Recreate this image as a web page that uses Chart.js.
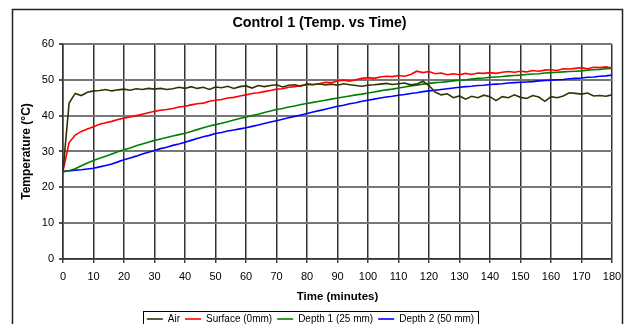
<!DOCTYPE html>
<html>
<head>
<meta charset="utf-8">
<title>Control 1</title>
<script src="https://cdn.jsdelivr.net/npm/chart.js@4/dist/chart.umd.min.js"></script>
<style>
  html, body { margin: 0; padding: 0; background: #fff; overflow: hidden; }
  #wrap { width: 624px; height: 334px; }
</style>
</head>
<body>
<div id="wrap"><canvas id="tempChart" width="624" height="334"></canvas></div>
<script>
// readings every 2 minutes
const minutes = [0, 2, 4, 6, 8, 10, 12, 14, 16, 18, 20, 22, 24, 26, 28, 30, 32, 34, 36, 38,
  40, 42, 44, 46, 48, 50, 52, 54, 56, 58, 60, 62, 64, 66, 68, 70, 72, 74, 76, 78,
  80, 82, 84, 86, 88, 90, 92, 94, 96, 98, 100, 102, 104, 106, 108, 110, 112, 114, 116, 118,
  120, 122, 124, 126, 128, 130, 132, 134, 136, 138, 140, 142, 144, 146, 148, 150, 152, 154, 156, 158,
  160, 162, 164, 166, 168, 170, 172, 174, 176, 178, 180];

const air = [24.5, 43.5, 46.2, 45.6, 46.5, 46.9, 47.0, 47.3, 46.9, 47.2, 47.4, 47.1, 47.5, 47.3, 47.6, 47.4, 47.6, 47.3, 47.5, 47.9,
  47.6, 48.1, 47.6, 47.9, 47.3, 48.0, 47.8, 48.2, 47.6, 48.1, 48.3, 47.7, 48.4, 48.1, 48.4, 48.6, 48.0, 48.5, 48.6, 48.2,
  48.9, 48.7, 48.9, 48.6, 48.8, 48.5, 48.9, 48.6, 48.4, 48.2, 48.5, 48.6, 48.8, 49.0, 48.7, 48.9, 49.1, 48.6, 48.8, 49.6,
  48.4, 46.6, 45.8, 46.1, 45.0, 45.5, 44.6, 45.4, 45.0, 45.7, 45.3, 44.2, 45.3, 45.0, 45.8, 45.1, 44.8, 45.6, 45.2, 44.0,
  45.3, 45.0, 45.5, 46.4, 46.2, 46.0, 46.3, 45.5, 45.6, 45.4, 45.8];

const surface = [24.5, 32.5, 34.6, 35.6, 36.3, 36.9, 37.6, 38.0, 38.4, 38.9, 39.3, 39.6, 40.0, 40.4, 40.8, 41.2, 41.5, 41.7, 42.0, 42.4,
  42.6, 43.0, 43.3, 43.5, 44.0, 44.3, 44.5, 44.9, 45.1, 45.5, 45.8, 46.2, 46.4, 46.7, 47.0, 47.4, 47.5, 47.9, 48.1, 48.4,
  48.6, 48.6, 48.9, 49.3, 49.2, 49.7, 49.9, 49.6, 50.0, 50.4, 50.6, 50.4, 50.8, 51.0, 50.9, 51.2, 51.0, 51.5, 52.4, 52.0,
  52.3, 51.7, 51.9, 51.4, 51.7, 51.4, 51.8, 51.5, 51.9, 51.8, 52.0, 51.8, 52.1, 52.3, 52.1, 52.4, 52.2, 52.6, 52.4, 52.7,
  52.8, 52.6, 53.1, 53.0, 53.2, 53.4, 53.1, 53.5, 53.4, 53.6, 53.3];

const depth1 = [24.3, 24.6, 25.2, 26.0, 26.8, 27.5, 28.1, 28.7, 29.3, 29.9, 30.5, 31.0, 31.6, 32.1, 32.6, 33.1, 33.5, 33.9, 34.3, 34.7,
  35.1, 35.6, 36.1, 36.6, 37.1, 37.5, 37.9, 38.3, 38.8, 39.2, 39.6, 40.0, 40.4, 40.9, 41.3, 41.7, 42.0, 42.4, 42.7, 43.1,
  43.4, 43.7, 44.0, 44.3, 44.6, 44.9, 45.2, 45.5, 45.8, 46.0, 46.3, 46.6, 46.9, 47.2, 47.4, 47.7, 48.0, 48.3, 48.5, 48.8,
  49.0, 49.2, 49.3, 49.5, 49.7, 49.9, 50.0, 50.2, 50.4, 50.5, 50.7, 50.8, 50.9, 51.1, 51.2, 51.3, 51.5, 51.6, 51.7, 51.9,
  52.0, 52.1, 52.2, 52.3, 52.4, 52.5, 52.7, 52.8, 52.9, 53.1, 53.2];

const depth2 = [24.5, 24.6, 24.8, 24.9, 25.1, 25.3, 25.7, 26.1, 26.5, 27.1, 27.7, 28.2, 28.7, 29.3, 29.8, 30.3, 30.8, 31.2, 31.7, 32.1,
  32.6, 33.1, 33.6, 34.1, 34.5, 35.0, 35.3, 35.7, 36.0, 36.3, 36.6, 37.0, 37.4, 37.8, 38.2, 38.6, 39.0, 39.4, 39.8, 40.2,
  40.6, 41.0, 41.4, 41.8, 42.2, 42.6, 42.9, 43.3, 43.6, 44.0, 44.3, 44.6, 44.9, 45.2, 45.4, 45.7, 45.9, 46.2, 46.4, 46.7,
  46.9, 47.1, 47.3, 47.5, 47.7, 47.9, 48.1, 48.2, 48.4, 48.5, 48.7, 48.8, 48.9, 49.1, 49.2, 49.3, 49.4, 49.5, 49.7, 49.8,
  49.9, 50.0, 50.1, 50.3, 50.4, 50.5, 50.7, 50.8, 51.0, 51.1, 51.3];

const seriesNames = ['Air', 'Surface (0mm)', 'Depth 1 (25 mm)', 'Depth 2 (50 mm)'];
const seriesColors = ['#333300', '#ff0000', '#008000', '#0000ff'];

const FONT = 'Arial, "Liberation Sans", sans-serif';

function toPoints(values) {
  return values.map((v, i) => ({ x: minutes[i], y: v }));
}

// white page with the outer frame, and a box round the legend row
const framePlugin = {
  id: 'frame',
  beforeDraw(chart) {
    const c = chart.ctx;
    c.save();
    c.fillStyle = '#fff';
    c.fillRect(0, 0, chart.width, chart.height);
    c.strokeStyle = '#222';
    c.lineWidth = 1.5;
    c.strokeRect(12.5, 9.5, 610, 340);
    c.restore();
  },
  afterLayout(chart) {
    // title sits right of the page centre, legend a touch left
    chart.titleBlock.left += 7;
    chart.titleBlock.right += 7;
    chart.legend.left -= 2;
    chart.legend.right -= 2;
  },
  afterDraw(chart) {
    const boxes = chart.legend.legendHitBoxes;
    if (!boxes || !boxes.length) return;
    const first = boxes[0];
    const last = boxes[boxes.length - 1];
    const c = chart.ctx;
    c.save();
    c.strokeStyle = '#000';
    c.lineWidth = 1;
    const x0 = Math.round(first.left - 4) + 0.5;
    const x1 = Math.round(last.left + last.width + 4) + 0.5;
    const y0 = Math.round(first.top - 3) + 0.5;
    c.strokeRect(x0, y0, x1 - x0, 40);
    c.restore();
  }
};

new Chart(document.getElementById('tempChart'), {
  type: 'line',
  data: {
    datasets: [air, surface, depth1, depth2].map((vals, i) => ({
      label: seriesNames[i],
      data: toPoints(vals),
      borderColor: seriesColors[i],
      backgroundColor: seriesColors[i],
      borderWidth: 1.6,
      pointRadius: 0,
      tension: 0,
      fill: false
    }))
  },
  options: {
    responsive: false,
    animation: false,
    layout: { padding: { left: 13, right: 12, top: 0, bottom: 0 } },
    plugins: {
      title: {
        display: true,
        text: 'Control 1 (Temp. vs Time)',
        color: '#000',
        font: { family: FONT, size: 14.3, weight: 'bold' },
        padding: { top: 14.4, bottom: 12.4 }
      },
      legend: {
        position: 'bottom',
        labels: {
          color: '#000',
          font: { family: FONT, size: 10 },
          usePointStyle: true,
          pointStyle: 'line',
          pointStyleWidth: 16,
          padding: 5
        }
      },
      tooltip: { enabled: false }
    },
    scales: {
      x: {
        type: 'linear',
        min: 0,
        max: 180,
        afterFit(scale) {
          scale.height = 50;
          scale.paddingLeft = 0;
          scale.paddingRight = 0;
        },
        ticks: {
          stepSize: 10,
          color: '#000',
          font: { family: FONT, size: 11 },
          padding: 7,
          maxRotation: 0
        },
        grid: { color: '#333', lineWidth: 1.5, tickLength: 4, tickColor: '#444' },
        border: { color: '#333', width: 1.5 },
        title: {
          display: true,
          text: 'Time (minutes)',
          color: '#000',
          font: { family: FONT, size: 11.5, weight: 'bold' },
          padding: { top: 0, bottom: 5.6 }
        }
      },
      y: {
        min: 0,
        max: 60,
        afterFit(scale) { scale.width = 50; },
        ticks: {
          stepSize: 10,
          color: '#000',
          font: { family: FONT, size: 11 },
          padding: 5
        },
        grid: { color: '#777', lineWidth: 2, tickLength: 4, tickColor: '#555' },
        border: { color: '#333', width: 1.5 },
        title: {
          display: true,
          text: 'Temperature (°C)',
          color: '#000',
          font: { family: FONT, size: 12, weight: 'bold' },
          padding: { top: 6.5, bottom: 0 }
        }
      }
    }
  },
  plugins: [framePlugin]
});
</script>
</body>
</html>
